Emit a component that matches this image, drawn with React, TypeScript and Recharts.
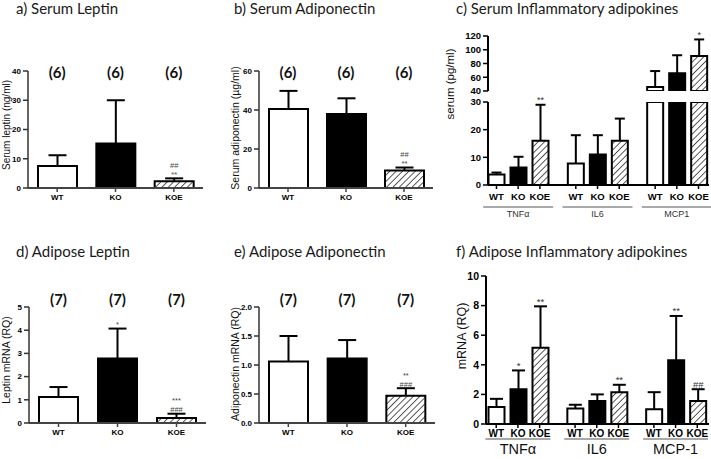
import React from 'react';
import { BarChart, Bar, XAxis, YAxis, Cell, LabelList, ReferenceDot } from 'recharts';

const genotypes = ['WT', 'KO', 'KOE'];
const none = ['', '', ''];

// a) serum leptin (ng/ml): mean and mean + SD
const serumLeptin = [7.5, 15.2, 2.3];
const serumLeptinTop = [11.2, 30, 3.3];
const serumLeptinSig = ['', '', '##|**'];
const serumN = [6, 6, 6];

// b) serum adiponectin (µg/ml)
const serumAdipo = [40.5, 38, 9];
const serumAdipoTop = [49.8, 46, 10.5];
const serumAdipoSig = ['', '', '##|**'];

// d) adipose leptin mRNA (RQ)
const adiposeLeptin = [1.12, 2.78, 0.22];
const adiposeLeptinTop = [1.55, 4.07, 0.4];
const adiposeLeptinSig = ['', '*', '***|###'];
const adiposeN = [7, 7, 7];

// e) adipose adiponectin mRNA (RQ)
const adiposeAdipo = [1.06, 1.11, 0.47];
const adiposeAdipoTop = [1.5, 1.43, 0.6];
const adiposeAdipoSig = ['', '', '**|###'];

// c) serum inflammatory adipokines (pg/ml), per genotype over the cytokines
const serumCytokines = ['TNFα', 'IL6', 'MCP1'];
const serumWT = [3.8, 7.8, 46];
const serumWTTop = [4.5, 18, 69];
const serumKO = [6.3, 11, 66];
const serumKOTop = [10.2, 18, 92];
const serumKOE = [16, 16, 91];
const serumKOETop = [29, 24, 115];
const serumKOESig = ['**', '', '*'];

// f) adipose inflammatory adipokines mRNA (RQ)
const adiposeCytokines = ['TNFα', 'IL6', 'MCP-1'];
const adiposeWT = [1.15, 1.05, 1.0];
const adiposeWTTop = [1.7, 1.3, 2.15];
const adiposeKO = [2.35, 1.55, 4.3];
const adiposeKOTop = [3.62, 2.0, 7.3];
const adiposeKOSig = ['*', '', '**'];
const adiposeKOE = [5.15, 2.15, 1.55];
const adiposeKOETop = [7.95, 2.65, 2.35];
const adiposeKOESig = ['**', '**', '##'];

const AX = '"Liberation Sans", Arial, sans-serif';
const TITLE = 'Lato, "Open Sans", sans-serif';

type Plot = [number, number, number, number];
type Domain = [number, number];

// place a chart so that its plot area lands on the given page rectangle
const frame = (plot: Plot, yw: number, mt: number, mr: number, xh: number, mb: number) => {
  const [l, t, r, b] = plot;
  return {
    left: l - yw,
    top: t - mt,
    width: r - l + yw + mr,
    height: b - t + mt + xh + mb,
    margin: { top: mt, right: mr, bottom: mb, left: 0 },
  };
};

const Hatch = ({ id }: { id: string }) => (
  <defs>
    <pattern id={id} patternUnits="userSpaceOnUse" width={4.5} height={4.5} patternTransform="rotate(45)">
      <rect width={4.5} height={4.5} fill="#fff" />
      <line x1={0} y1={0} x2={0} y2={4.5} stroke="#000" strokeWidth={1.3} />
    </pattern>
  </defs>
);

// stacked value [from, to] of a bar segment
const span = (p: any): Domain => (Array.isArray(p.value) ? [p.value[0], p.value[1]] : [0, p.value]);

// bar cut to the plot area; edges that run past the axis break stay open
const barShape = (domain: Domain) => (p: any) => {
  const { x, y, width, height, fill, background: bg } = p;
  if (![x, y, width, height].every((v) => isFinite(v))) return <g />;
  const [v0, v1] = span(p);
  const lo = bg ? bg.y : -Infinity;
  const hi = bg ? bg.y + bg.height : Infinity;
  const t = Math.max(y, lo);
  const b = Math.min(y + height, hi);
  if (v0 >= domain[1] || v1 <= domain[0] || b - t < 0.5) return <g />;
  const openTop = v1 > domain[1];
  const openBottom = v0 < domain[0];
  const r = x + width;
  const d = `M${x},${b} L${x},${t} ${openTop ? 'M' : 'L'}${r},${t} L${r},${b} ${openBottom ? '' : `L${x},${b}`}`;
  return (
    <g>
      <rect x={x} y={t} width={width} height={b - t} fill={fill} />
      <path d={d} fill="none" stroke="#000" strokeWidth={2} />
    </g>
  );
};

// upward-only error bar drawn as the stacked "err" segment
const errShape = (cap: number, domain: Domain) => (p: any) => {
  const { x, y, width, height, background: bg } = p;
  if (![x, y, width, height].every((v) => isFinite(v))) return <g />;
  const [v0, v1] = span(p);
  if (v0 >= domain[1] || v1 <= domain[0]) return <g />;
  const lo = bg ? bg.y : -Infinity;
  const hi = bg ? bg.y + bg.height : Infinity;
  const t = Math.max(y, lo);
  const b = Math.min(y + height, hi);
  const cx = x + width / 2;
  return (
    <g>
      <line x1={cx} x2={cx} y1={b} y2={t} stroke="#000" strokeWidth={2} />
      {v1 <= domain[1] && <line x1={cx - cap} x2={cx + cap} y1={t} y2={t} stroke="#000" strokeWidth={2} />}
    </g>
  );
};

const sigContent = (size: number, gap: number, color: string) => (p: any) => {
  const lines = p.value ? String(p.value).split('|') : [];
  if (!lines.length) return null;
  const vb = p.viewBox || p;
  const cx = vb.x + vb.width / 2;
  return (
    <text textAnchor="middle" fontSize={size} fontFamily={AX} fill={color}>
      {lines.map((s, i) => (
        <tspan key={i} x={cx} y={vb.y - 1.5 - (lines.length - 1 - i) * gap}>
          {s}
        </tspan>
      ))}
    </text>
  );
};

const CountLabel = (p: any) => {
  const vb = p.viewBox || {};
  return (
    <text x={vb.x} y={vb.y + p.dy} textAnchor="middle" dominantBaseline="central" fontSize={15} fontWeight={700} fontFamily={TITLE} fill="#111">
      {p.text}
    </text>
  );
};

interface SimpleProps {
  id: string;
  plot: Plot;
  mean: number[];
  top: number[];
  sig: string[];
  n: number[];
  domain: Domain;
  ticks: number[];
  fmt?: (v: number) => string;
  nDy: number;
  sigGap: number;
}

const SimplePanel = ({ id, plot, mean, top, sig, n, domain, ticks, fmt, nDy, sigGap }: SimpleProps) => {
  const f = frame(plot, 26, 30, 10, 22, 6);
  const rows = genotypes.map((g, i) => ({ name: g, mean: mean[i], err: top[i] - mean[i], sig: sig[i], n: n[i] }));
  const fills = ['#fff', '#000', `url(#hatch-${id})`];
  return (
    <div style={{ position: 'absolute', left: f.left, top: f.top }}>
      <BarChart width={f.width} height={f.height} data={rows} margin={f.margin} barSize={39}>
        <Hatch id={`hatch-${id}`} />
        <XAxis
          dataKey="name"
          height={22}
          interval={0}
          tickSize={4}
          tickMargin={2}
          axisLine={{ stroke: '#444', strokeWidth: 2 }}
          tickLine={{ stroke: '#444', strokeWidth: 1.5 }}
          tick={{ fill: '#000', fontSize: 8, fontWeight: 700, fontFamily: AX }}
        />
        <YAxis
          width={26}
          domain={domain}
          ticks={ticks}
          interval={0}
          tickFormatter={fmt}
          tickSize={5}
          tickMargin={2}
          axisLine={{ stroke: '#333', strokeWidth: 1.5 }}
          tickLine={{ stroke: '#333', strokeWidth: 1.5 }}
          tick={{ fill: '#000', fontSize: 8, fontWeight: 700, fontFamily: AX }}
        />
        <Bar dataKey="mean" stackId="s" shape={barShape(domain)} isAnimationActive={false}>
          {rows.map((r, i) => (
            <Cell key={r.name} fill={fills[i]} />
          ))}
        </Bar>
        <Bar dataKey="err" stackId="s" shape={errShape(9, domain)} isAnimationActive={false}>
          <LabelList dataKey="sig" content={sigContent(7.5, sigGap, '#444')} />
        </Bar>
        {rows.map((r) => (
          <ReferenceDot key={r.name} x={r.name} y={domain[1]} r={0} ifOverflow="visible" label={<CountLabel text={`(${r.n})`} dy={nDy} />} />
        ))}
      </BarChart>
    </div>
  );
};

interface TickOpts {
  step: number;
  size: number;
  labelDy: number;
  lineDy: number;
  half: number;
  groupDy: number;
  groupSize: number;
  groupColor: string;
}

const GroupTick = (p: any) => {
  const { x, y, payload, o } = p;
  const t: TickOpts = o;
  return (
    <g>
      {genotypes.map((g, j) => {
        const bx = x + (j - 1) * t.step;
        return (
          <g key={g}>
            <line x1={bx} x2={bx} y1={y} y2={y + 4} stroke="#000" strokeWidth={1.5} />
            <text x={bx} y={y + t.labelDy} textAnchor="middle" dominantBaseline="central" fontSize={t.size} fontWeight={700} fontFamily={AX} fill="#000">
              {g}
            </text>
          </g>
        );
      })}
      <line x1={x - t.half} x2={x + t.half} y1={y + t.lineDy} y2={y + t.lineDy} stroke="#555" strokeWidth={1.2} />
      <text x={x} y={y + t.groupDy} textAnchor="middle" dominantBaseline="central" fontSize={t.groupSize} fontFamily={AX} fill={t.groupColor}>
        {payload.value}
      </text>
    </g>
  );
};

interface GroupProps {
  id: string;
  plot: Plot;
  cats: string[];
  means: number[][];
  tops: number[][];
  sigs: string[][];
  domain: Domain;
  ticks: number[];
  pad: { left: number; right: number };
  showX: boolean;
  tickSize: number;
  cap: number;
  sigSize: number;
  mt: number;
  tick?: TickOpts;
}

const GroupChart = ({ id, plot, cats, means, tops, sigs, domain, ticks, pad, showX, tickSize, cap, sigSize, mt, tick }: GroupProps) => {
  const xh = showX ? 50 : 0;
  const f = frame(plot, 30, mt, 6, xh, showX ? 2 : 8);
  const inRange = (v: number) => v >= domain[0] && v <= domain[1];
  const rows = cats.map((c, i) => {
    const row: Record<string, any> = { name: c };
    genotypes.forEach((g, j) => {
      row[g] = means[j][i];
      row[g + 'Err'] = tops[j][i] - means[j][i];
      row[g + 'Sig'] = inRange(tops[j][i]) ? sigs[j][i] : '';
    });
    return row;
  });
  const fills = ['#fff', '#000', `url(#hatch-${id})`];
  return (
    <div style={{ position: 'absolute', left: f.left, top: f.top }}>
      <BarChart width={f.width} height={f.height} data={rows} margin={f.margin} barGap={6} barCategoryGap={10}>
        <Hatch id={`hatch-${id}`} />
        <XAxis
          dataKey="name"
          hide={!showX}
          height={xh}
          padding={pad}
          interval={0}
          tickSize={0}
          tickMargin={0}
          tickLine={false}
          axisLine={{ stroke: '#000', strokeWidth: 2 }}
          tick={<GroupTick o={tick} />}
        />
        <YAxis
          width={30}
          domain={domain}
          ticks={ticks}
          interval={0}
          allowDataOverflow
          tickSize={5}
          tickMargin={2}
          axisLine={{ stroke: '#000', strokeWidth: 2 }}
          tickLine={{ stroke: '#000', strokeWidth: 1.5 }}
          tick={{ fill: '#000', fontSize: tickSize, fontWeight: 700, fontFamily: AX }}
        />
        {genotypes.map((g, j) => (
          <Bar key={g} dataKey={g} stackId={g} fill={fills[j]} shape={barShape(domain)} isAnimationActive={false} />
        ))}
        {genotypes.map((g) => (
          <Bar key={g + 'e'} dataKey={g + 'Err'} stackId={g} shape={errShape(cap, domain)} isAnimationActive={false}>
            <LabelList dataKey={g + 'Sig'} content={sigContent(sigSize, 8, '#333')} />
          </Bar>
        ))}
      </BarChart>
    </div>
  );
};

const titles = [
  { text: 'a) Serum Leptin', x: 16, y: 14 },
  { text: 'b) Serum Adiponectin', x: 234, y: 14 },
  { text: 'c) Serum Inflammatory adipokines', x: 456, y: 14 },
  { text: 'd) Adipose Leptin', x: 16, y: 257 },
  { text: 'e) Adipose Adiponectin', x: 234, y: 257 },
  { text: 'f) Adipose Inflammatory adipokines', x: 456, y: 257 },
];

const yLabels = [
  { text: 'Serum leptin (ng/ml)', x: 6, y: 125, size: 10 },
  { text: 'Serum adiponectin (µg/ml)', x: 235, y: 128, size: 10.5 },
  { text: 'serum (pg/ml)', x: 450, y: 84, size: 11.5 },
  { text: 'Leptin mRNA (RQ)', x: 6, y: 360, size: 10.5 },
  { text: 'Adiponectin mRNA (RQ)', x: 235, y: 364, size: 10.5 },
  { text: 'mRNA (RQ)', x: 462, y: 336, size: 12.5 },
];

const cTick: TickOpts = { step: 21.7, size: 9.5, labelDy: 11, lineDy: 22, half: 35, groupDy: 29, groupSize: 9, groupColor: '#333' };
const fTick: TickOpts = { step: 21.7, size: 10, labelDy: 9, lineDy: 15, half: 32.5, groupDy: 25, groupSize: 14.5, groupColor: '#111' };

const App = () => (
  <div style={{ position: 'absolute', left: 0, top: 0, width: 711, height: 459, overflow: 'hidden', background: '#fff' }}>
    <SimplePanel id="a" plot={[28, 71, 203, 188]} mean={serumLeptin} top={serumLeptinTop} sig={serumLeptinSig} n={serumN} domain={[0, 40]} ticks={[0, 10, 20, 30, 40]} nDy={1} sigGap={9} />
    <SimplePanel id="b" plot={[259, 71, 433, 188]} mean={serumAdipo} top={serumAdipoTop} sig={serumAdipoSig} n={serumN} domain={[0, 60]} ticks={[0, 20, 40, 60]} nDy={1} sigGap={9} />
    <SimplePanel id="d" plot={[29, 307, 206, 423]} mean={adiposeLeptin} top={adiposeLeptinTop} sig={adiposeLeptinSig} n={adiposeN} domain={[0, 5]} ticks={[0, 1, 2, 3, 4, 5]} nDy={-8} sigGap={9} />
    <SimplePanel id="e" plot={[259, 307, 435, 423]} mean={adiposeAdipo} top={adiposeAdipoTop} sig={adiposeAdipoSig} n={adiposeN} domain={[0, 2]} ticks={[0, 0.5, 1, 1.5, 2]} fmt={(v) => v.toFixed(1)} nDy={-8} sigGap={9} />
    <GroupChart
      id="ct"
      plot={[488, 36, 709, 91]}
      cats={serumCytokines}
      means={[serumWT, serumKO, serumKOE]}
      tops={[serumWTTop, serumKOTop, serumKOETop]}
      sigs={[none, none, serumKOESig]}
      domain={[40, 120]}
      ticks={[40, 60, 80, 100, 120]}
      pad={{ left: -9.5, right: -7.5 }}
      showX={false}
      tickSize={9.5}
      cap={5}
      sigSize={9}
      mt={14}
    />
    <GroupChart
      id="cb"
      plot={[488, 102, 709, 185]}
      cats={serumCytokines}
      means={[serumWT, serumKO, serumKOE]}
      tops={[serumWTTop, serumKOTop, serumKOETop]}
      sigs={[none, none, serumKOESig]}
      domain={[0, 30]}
      ticks={[0, 10, 20, 30]}
      pad={{ left: -9.5, right: -7.5 }}
      showX
      tickSize={9.5}
      cap={5}
      sigSize={9}
      mt={8}
      tick={cTick}
    />
    <GroupChart
      id="f"
      plot={[486, 276, 709, 424]}
      cats={adiposeCytokines}
      means={[adiposeWT, adiposeKO, adiposeKOE]}
      tops={[adiposeWTTop, adiposeKOTop, adiposeKOETop]}
      sigs={[none, adiposeKOSig, adiposeKOESig]}
      domain={[0, 10]}
      ticks={[0, 2, 4, 6, 8, 10]}
      pad={{ left: -7.5, right: -6 }}
      showX
      tickSize={10.5}
      cap={6.5}
      sigSize={9.5}
      mt={10}
      tick={fTick}
    />
    <svg width={711} height={459} style={{ position: 'absolute', left: 0, top: 0, pointerEvents: 'none' }}>
      {titles.map((t) => (
        <text key={t.text} x={t.x} y={t.y} fontSize={15} fontFamily={TITLE} fill="#1a1a1a">
          {t.text}
        </text>
      ))}
      {yLabels.map((t) => (
        <text key={t.text} transform={`translate(${t.x},${t.y}) rotate(-90)`} textAnchor="middle" dominantBaseline="central" fontSize={t.size} fontFamily={AX} fill="#111">
          {t.text}
        </text>
      ))}
    </svg>
  </div>
);

export default App;
